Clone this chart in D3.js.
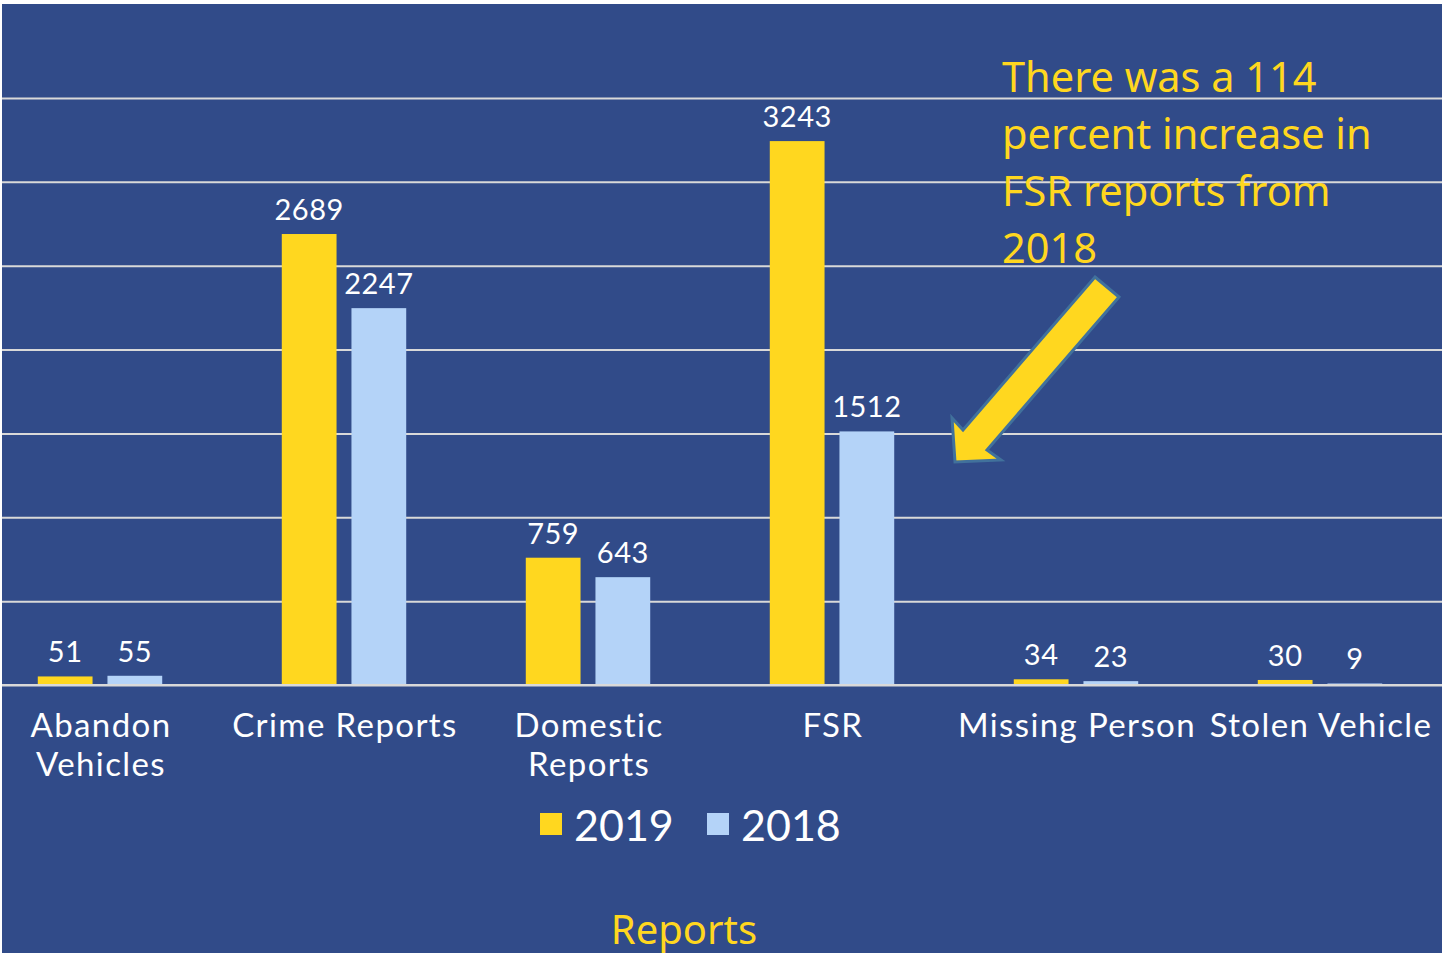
<!DOCTYPE html>
<html>
<head>
<meta charset="utf-8">
<script src="https://cdnjs.cloudflare.com/ajax/libs/d3/7.8.5/d3.min.js"></script>
<style>
  html, body { margin: 0; padding: 0; background: #fff; }
  svg { display: block; }
</style>
</head>
<body>
<div id="chart"></div>
<script>
// data
var categories = ["Abandon Vehicles", "Crime Reports", "Domestic Reports", "FSR", "Missing Person", "Stolen Vehicle"];
var categoryLines = [["Abandon", "Vehicles"], ["Crime Reports"], ["Domestic", "Reports"], ["FSR"], ["Missing Person"], ["Stolen Vehicle"]];
var series = ["2019", "2018"];
var values2019 = [51, 2689, 759, 3243, 34, 30];
var values2018 = [55, 2247, 643, 1512, 23, 9];
var yTicks = [0, 500, 1000, 1500, 2000, 2500, 3000, 3500];
var axisTitle = "Reports";
var noteLines = ["There was a 114", "percent increase in", "FSR reports from", "2018"];

var colors = { "2019": "#FFD71F", "2018": "#B4D3F8" };
var bg = "#314B89";
var W = 1442, H = 953;

var svg = d3.select("#chart").append("svg")
    .attr("width", W)
    .attr("height", H);

// chart background (slight white margin top/left like the screenshot)
svg.append("rect")
    .attr("x", 2).attr("y", 4)
    .attr("width", W - 2).attr("height", H - 4)
    .attr("fill", bg);

var y = d3.scaleLinear().domain([0, 3500]).range([685, 98]);

// groups: step 244, first centre at x=100 (left edge is cropped)
var x0 = d3.scaleBand()
    .domain(categories)
    .range([-22, 1442])
    .paddingInner(0.49)
    .paddingOuter(0.245);

var x1 = d3.scaleBand()
    .domain(series)
    .range([0, x0.bandwidth()])
    .paddingInner(0.214);

// gridlines
svg.append("g")
    .attr("class", "grid")
    .attr("transform", "translate(2,0)")
    .call(d3.axisLeft(y).tickValues(yTicks).tickSize(-(W - 2)).tickFormat(""))
    .call(function(g) { g.select(".domain").remove(); })
    .selectAll("line")
    .attr("stroke", "#D9D9D9")
    .attr("stroke-width", 2);

var rows = categories.map(function(c, i) {
    return { cat: c, vals: [
        { key: "2019", value: values2019[i] },
        { key: "2018", value: values2018[i] }
    ]};
});

var group = svg.selectAll(".group")
    .data(rows)
    .enter().append("g")
    .attr("class", "group")
    .attr("transform", function(d) { return "translate(" + x0(d.cat) + ",0)"; });

group.selectAll("rect")
    .data(function(d) { return d.vals; })
    .enter().append("rect")
    .attr("x", function(d) { return x1(d.key); })
    .attr("y", function(d) { return y(d.value); })
    .attr("width", x1.bandwidth())
    .attr("height", function(d) { return y(0) - y(d.value); })
    .attr("fill", function(d) { return colors[d.key]; });

group.selectAll(".val")
    .data(function(d) { return d.vals; })
    .enter().append("text")
    .attr("class", "val")
    .attr("x", function(d) { return x1(d.key) + x1.bandwidth() / 2; })
    .attr("y", function(d) { return y(d.value) - 14; })
    .attr("text-anchor", "middle")
    .attr("fill", "#fff")
    .style("font-family", "Lato, 'Open Sans', sans-serif")
    .style("font-size", "29px")
    .style("letter-spacing", "0.5px")
    .text(function(d) { return d.value; });

// redraw baseline on top of bars
svg.append("line")
    .attr("x1", 2).attr("x2", W)
    .attr("y1", y(0)).attr("y2", y(0))
    .attr("stroke", "#D9D9D9")
    .attr("stroke-width", 2);

// category labels
var catLabel = svg.selectAll(".cat")
    .data(categories)
    .enter().append("text")
    .attr("class", "cat")
    .attr("text-anchor", "middle")
    .attr("fill", "#fff")
    .style("font-family", "Lato, 'Open Sans', sans-serif")
    .style("font-size", "33px")
    .style("letter-spacing", "1.4px");

catLabel.selectAll("tspan")
    .data(function(d, i) { return categoryLines[i]; })
    .enter().append("tspan")
    .attr("x", function() { var c = d3.select(this.parentNode).datum(); return x0(c) + x0.bandwidth() / 2 + 1; })
    .attr("y", function(d, i) { return 737 + i * 39; })
    .text(function(d) { return d; });

// legend
var legend = svg.append("g").attr("class", "legend");
var legendX = [540, 707];
series.forEach(function(s, i) {
    legend.append("rect")
        .attr("x", legendX[i]).attr("y", 813)
        .attr("width", 22).attr("height", 22)
        .attr("fill", colors[s]);
    legend.append("text")
        .attr("x", legendX[i] + 34).attr("y", 841)
        .attr("fill", "#fff")
        .style("font-family", "Lato, 'Open Sans', sans-serif")
        .style("font-size", "43px")
        .text(s);
});

// axis title
svg.append("text")
    .attr("x", 684).attr("y", 944)
    .attr("text-anchor", "middle")
    .attr("fill", colors["2019"])
    .style("font-family", "'Noto Sans', sans-serif")
    .style("font-size", "40px")
    .text(axisTitle);

// annotation text
svg.append("g").selectAll("text")
    .data(noteLines)
    .enter().append("text")
    .attr("x", 1002)
    .attr("y", function(d, i) { return 92 + i * 57; })
    .attr("fill", colors["2019"])
    .style("font-family", "'Noto Sans', sans-serif")
    .style("font-size", "41.5px")
    .text(function(d) { return d; });

// block arrow pointing at the FSR 2018 bar
var arrowPts = [[1095, 277], [1119, 297], [987, 450], [1001, 460], [955, 462], [952, 418], [963, 430]];
svg.append("path")
    .attr("d", d3.line()(arrowPts) + "Z")
    .attr("fill", colors["2019"])
    .attr("stroke", "#41719C")
    .attr("stroke-width", 3)
    .attr("stroke-linejoin", "miter");
</script>
</body>
</html>
